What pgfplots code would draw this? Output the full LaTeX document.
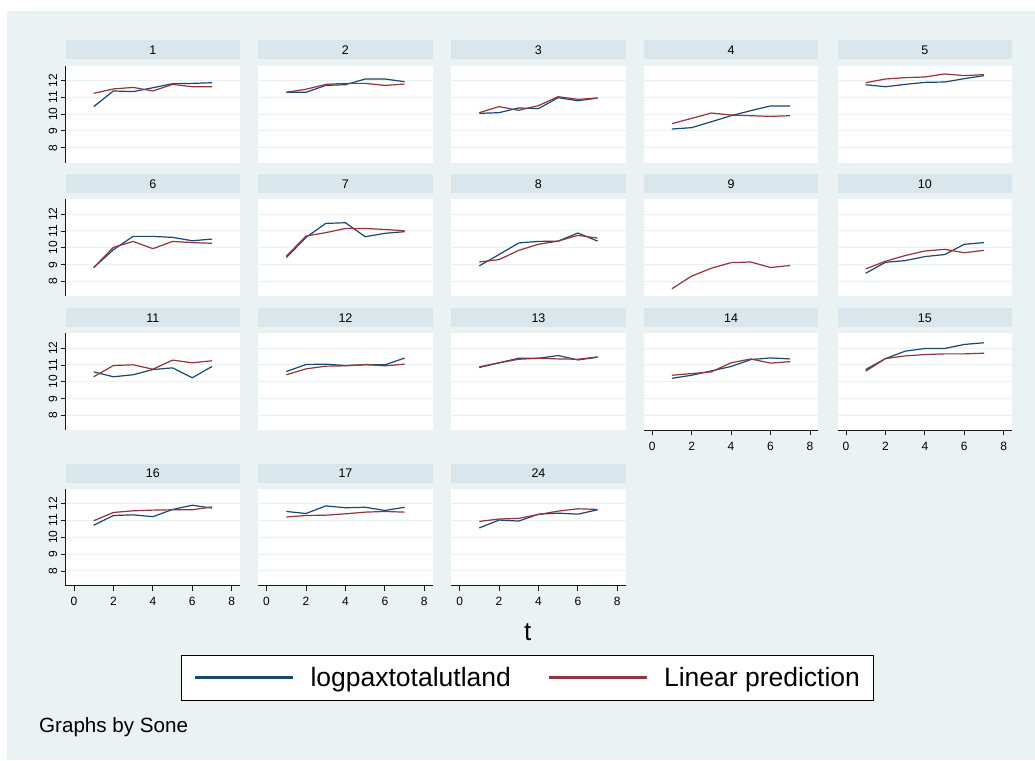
\documentclass[border=0pt]{standalone}
\usepackage{fontspec}
\setmainfont{Liberation Sans}
\usepackage{pgfplots}
\usepackage{pgfplotstable}
\pgfplotsset{compat=1.18}
\definecolor{bl}{RGB}{26,71,111}
\definecolor{rd}{RGB}{144,53,59}
\definecolor{bg}{RGB}{234,242,243}
\definecolor{hdr}{RGB}{217,230,235}
\definecolor{gridc}{RGB}{232,240,242}
\definecolor{axc}{RGB}{25,25,25}

\pgfplotstableread{
t b r
1 10.44 11.23
2 11.37 11.49
3 11.33 11.58
4 11.56 11.37
5 11.80 11.76
6 11.82 11.62
7 11.86 11.62
}\tabA
\pgfplotstableread{
t b r
1 11.29 11.29
2 11.29 11.47
3 11.70 11.76
4 11.74 11.82
5 12.08 11.82
6 12.08 11.70
7 11.92 11.78
}\tabB
\pgfplotstableread{
t b r
1 10.04 10.08
2 10.08 10.44
3 10.36 10.22
4 10.32 10.50
5 10.97 11.03
6 10.79 10.87
7 10.95 10.95
}\tabC
\pgfplotstableread{
t b r
1 9.11 9.43
2 9.19 9.74
3 9.54 10.06
4 9.90 9.94
5 10.20 9.90
6 10.48 9.86
7 10.48 9.90
}\tabD
\pgfplotstableread{
t b r
1 11.74 11.86
2 11.62 12.08
3 11.76 12.16
4 11.88 12.20
5 11.90 12.38
6 12.10 12.28
7 12.28 12.34
}\tabE
\pgfplotstableread{
t b r
1 8.83 8.83
2 9.89 10.03
3 10.68 10.38
4 10.68 9.95
5 10.62 10.38
6 10.42 10.31
7 10.52 10.27
}\tabF
\pgfplotstableread{
t b r
1 9.42 9.50
2 10.62 10.70
3 11.45 10.90
4 11.49 11.15
5 10.66 11.15
6 10.86 11.09
7 10.96 11.01
}\tabG
\pgfplotstableread{
t b r
1 8.93 9.16
2 9.60 9.30
3 10.29 9.85
4 10.38 10.21
5 10.40 10.40
6 10.88 10.74
7 10.40 10.58
}\tabH
\pgfplotstableread{
t b r
1 nan 7.57
2 nan 8.32
3 nan 8.79
4 nan 9.12
5 nan 9.16
6 nan 8.83
7 nan 8.95
}\tabI
\pgfplotstableread{
t b r
1 8.49 8.75
2 9.14 9.20
3 9.24 9.54
4 9.48 9.81
5 9.60 9.91
6 10.21 9.71
7 10.31 9.85
}\tabJ
\pgfplotstableread{
t b r
1 10.59 10.30
2 10.30 10.97
3 10.42 11.01
4 10.73 10.75
5 10.83 11.29
6 10.24 11.13
7 10.91 11.25
}\tabK
\pgfplotstableread{
t b r
1 10.61 10.42
2 11.03 10.77
3 11.05 10.93
4 10.97 10.95
5 11.01 11.03
6 11.01 10.95
7 11.41 11.05
}\tabL
\pgfplotstableread{
t b r
1 10.85 10.89
2 11.13 11.13
3 11.40 11.34
4 11.40 11.40
5 11.56 11.36
6 11.30 11.34
7 11.46 11.48
}\tabM
\pgfplotstableread{
t b r
1 10.21 10.39
2 10.39 10.49
3 10.65 10.59
4 10.91 11.13
5 11.32 11.36
6 11.42 11.11
7 11.36 11.20
}\tabN
\pgfplotstableread{
t b r
1 10.73 10.63
2 11.38 11.38
3 11.82 11.54
4 11.98 11.62
5 11.98 11.66
6 12.22 11.66
7 12.32 11.70
}\tabO
\pgfplotstableread{
t b r
1 10.71 10.98
2 11.29 11.47
3 11.33 11.57
4 11.22 11.61
5 11.65 11.63
6 11.90 11.63
7 11.73 11.80
}\tabP
\pgfplotstableread{
t b r
1 11.53 11.20
2 11.41 11.29
3 11.86 11.31
4 11.75 11.39
5 11.78 11.49
6 11.59 11.53
7 11.78 11.49
}\tabQ
\pgfplotstableread{
t b r
1 10.55 10.94
2 11.02 11.08
3 10.96 11.12
4 11.37 11.35
5 11.43 11.55
6 11.37 11.69
7 11.63 11.65
}\tabR

\pgfplotsset{
 pbase/.style={
  scale only axis, width=174.3pt, height=97pt,
  xmin=-0.42, xmax=8.42, ymin=7.11, ymax=12.87,
  axis background/.style={fill=white},
  separate axis lines,
  axis x line*=bottom, axis y line*=left,
  x axis line style={-, draw=none}, y axis line style={-, draw=none},
  xtick={0,2,4,6,8}, ytick={8,9,10,11,12},
  xticklabels={}, yticklabels={},
  xtick style={draw=none}, ytick style={draw=none},
  tick align=outside, major tick length=5pt,
  ymajorgrids, major grid style={draw=gridc, line width=1pt},
  title style={at={(0.5,1)}, anchor=south, yshift=0pt, fill=hdr,
    minimum width=174.3pt, minimum height=19pt, inner sep=0pt,
    font=\fontsize{12.5}{14}\selectfont},
  tick label style={font=\fontsize{12}{14}\selectfont},
  yticklabel style={rotate=90, anchor=south},
  xticklabel style={yshift=-3pt},
  /pgf/number format/assume math mode=true,
 },
 yax/.style={y axis line style={draw=axc, line width=1pt},
   ytick style={draw=axc, line width=0.8pt}, yticklabels={8,9,10,11,12}},
 xax/.style={x axis line style={draw=axc, line width=1pt},
   xtick style={draw=axc, line width=0.8pt}, xticklabels={0,2,4,6,8}},
 leg/.style={legend columns=2,
   legend entries={logpaxtotalutland, Linear prediction},
   legend cell align=left,
   legend image code/.code={\draw[##1, line width=2.2pt] (0pt,0pt) -- (98pt,0pt);},
   legend style={at={(2.6475,-0.945)}, anchor=center, draw=black,
     line width=0.8pt, fill=white, font=\fontsize{26.5}{30}\selectfont,
     inner xsep=13pt, inner ysep=12pt, nodes={inner sep=0pt},
     /tikz/every odd column/.append style={column sep=16pt},
     /tikz/every even column/.append style={column sep=37pt}}},
 dl/.style={line width=1.2pt, line join=round},
}

\newcommand{\panel}[5]{%
\begin{axis}[pbase, at={(#1pt,#2pt)}, anchor=south west, title={#3}, #5]
\addplot[dl, bl] table[x=t,y=b]{#4};
\addplot[dl, rd] table[x=t,y=r]{#4};
\end{axis}}

\begin{document}
\begin{tikzpicture}[x=1pt,y=1pt]
\useasboundingbox (0,0) rectangle (1035,760);
\fill[white] (0,0) rectangle (1035,760);
\fill[bg] (7,0) rectangle (1035,749);
\panel{65.7}{597.3}{1}{\tabA}{yax}
\panel{258.3}{597.3}{2}{\tabB}{}
\panel{451.3}{597.3}{3}{\tabC}{}
\panel{643.9}{597.3}{4}{\tabD}{}
\panel{837.7}{597.3}{5}{\tabE}{}
\panel{65.7}{463.5}{6}{\tabF}{yax}
\panel{258.3}{463.5}{7}{\tabG}{}
\panel{451.3}{463.5}{8}{\tabH}{}
\panel{643.9}{463.5}{9}{\tabI}{}
\panel{837.7}{463.5}{10}{\tabJ}{}
\panel{65.7}{329.5}{11}{\tabK}{yax}
\panel{258.3}{329.5}{12}{\tabL}{}
\panel{451.3}{329.5}{13}{\tabM}{}
\panel{643.9}{329.5}{14}{\tabN}{xax}
\panel{837.7}{329.5}{15}{\tabO}{xax}
\panel{65.7}{174.1}{16}{\tabP}{yax,xax,leg}
\panel{258.3}{174.1}{17}{\tabQ}{xax}
\panel{451.3}{174.1}{24}{\tabR}{xax}
\node[font=\fontsize{26}{30}\selectfont] at (527.7,128.3) {t};
\node[anchor=west, inner sep=0pt, font=\fontsize{20.6}{24}\selectfont] at (39,33.3) {Graphs by Sone};
\end{tikzpicture}
\end{document}
